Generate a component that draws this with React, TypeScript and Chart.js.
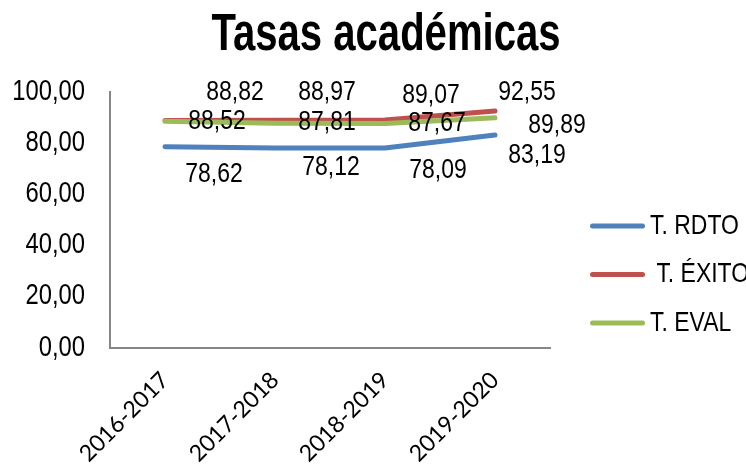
import React, { useEffect, useRef } from 'react';
import { Chart, registerables } from 'chart.js';

Chart.register(...registerables);

// ---- data ----
const categories = ['2016-2017', '2017-2018', '2018-2019', '2019-2020'];
const seriesNames = ['T. RDTO', ' T. ÉXITO', 'T. EVAL'];
const rdtoValues = [78.62, 78.12, 78.09, 83.19];
const exitoValues = [88.82, 88.97, 89.07, 92.55];
const evalValues = [88.52, 87.81, 87.67, 89.89];
const titleText = 'Tasas académicas';

// ---- styles ----
const SANS = "'Liberation Sans', Arial, sans-serif";
const NARROW_X = 0.82; // horizontal squeeze to imitate a narrow face
const colors = ['#4F81BD', '#C0504D', '#9BBB59'];
// data label displacement (px) per series, per point
const labelOffsets = [
  [[49, 28], [56, 19], [53, 22], [42, 20]],
  [[70, -28], [52, -28], [46, -25], [32, -19]],
  [[52, 0], [52, -1], [52, 0], [62, 7]],
];

const fmt = (v: number) => v.toFixed(2).replace('.', ',');

function narrowText(
  ctx: CanvasRenderingContext2D,
  text: string,
  x: number,
  y: number,
  font: string,
  align: CanvasTextAlign,
  baseline: CanvasTextBaseline,
  sx = NARROW_X
) {
  ctx.save();
  ctx.font = font;
  ctx.fillStyle = '#000';
  ctx.textAlign = align;
  ctx.textBaseline = baseline;
  ctx.translate(x, y);
  ctx.scale(sx, 1);
  ctx.fillText(text, 0, 0);
  ctx.restore();
}

const textPlugin = {
  id: 'narrowTexts',
  afterDatasetsDraw(chart: any) {
    const ctx = chart.ctx;
    // title
    narrowText(ctx, titleText, 386, 50, `bold 51px ${SANS}`, 'center', 'alphabetic', 0.786);
    // y tick labels from the library's scale
    const ys = chart.scales.y;
    ys.ticks.forEach((t: any) => {
      narrowText(ctx, fmt(t.value), 85, ys.getPixelForValue(t.value), `29px ${SANS}`, 'right', 'middle');
    });
    // data labels
    chart.data.datasets.forEach((ds: any, di: number) => {
      const meta = chart.getDatasetMeta(di);
      meta.data.forEach((pt: any, i: number) => {
        const off = labelOffsets[di][i];
        narrowText(ctx, fmt(ds.data[i]), pt.x + off[0], pt.y + off[1], `28px ${SANS}`, 'center', 'middle');
      });
    });
    // legend
    chart.data.datasets.forEach((ds: any, i: number) => {
      const y = 226 + i * 48.5;
      ctx.save();
      ctx.strokeStyle = ds.borderColor;
      ctx.lineWidth = 5;
      ctx.lineCap = 'round';
      ctx.beginPath();
      ctx.moveTo(592.5, y);
      ctx.lineTo(642.5, y);
      ctx.stroke();
      ctx.restore();
      narrowText(ctx, ds.label, 650, y, `28px ${SANS}`, 'left', 'middle');
    });
  },
};

export default function App() {
  const ref = useRef<HTMLCanvasElement>(null);
  useEffect(() => {
    document.body.style.margin = '0';
    const canvas = ref.current;
    if (!canvas) return;
    const values = [rdtoValues, exitoValues, evalValues];
    const chart = new Chart(canvas, {
      type: 'line',
      data: {
        labels: categories,
        datasets: values.map((v, i) => ({
          label: seriesNames[i],
          data: v,
          borderColor: colors[i],
          backgroundColor: colors[i],
          borderWidth: 5,
          borderCapStyle: 'round',
          borderJoinStyle: 'round',
          pointRadius: 0,
          tension: 0,
          fill: false,
          order: 2 - i,
        })),
      },
      options: {
        animation: false,
        responsive: false,
        devicePixelRatio: 1,
        layout: { padding: { left: 0, right: 196, top: 92, bottom: 0 } },
        plugins: {
          legend: { display: false },
          tooltip: { enabled: false },
          title: { display: false },
        },
        scales: {
          x: {
            type: 'category',
            offset: true,
            grid: { display: true, drawOnChartArea: false, drawTicks: false },
            border: { display: true, color: '#868686', width: 2 },
            ticks: {
              color: '#000',
              font: { family: 'Lato, sans-serif', size: 23 },
              minRotation: 45,
              maxRotation: 45,
              padding: 19,
            },
            afterFit(scale: any) {
              scale.height = 116.5;
            },
          },
          y: {
            min: 0,
            max: 100,
            grid: { display: true, drawOnChartArea: false, drawTicks: false },
            border: { display: true, color: '#868686', width: 2 },
            ticks: {
              display: false,
              stepSize: 20,
            },
            afterFit(scale: any) {
              scale.width = 110;
            },
          },
        },
      },
      plugins: [textPlugin],
    } as any);
    return () => chart.destroy();
  }, []);
  return (
    <div style={{ position: 'absolute', left: 0, top: 0, width: 746, height: 464 }}>
      <canvas ref={ref} width={746} height={464} />
    </div>
  );
}
